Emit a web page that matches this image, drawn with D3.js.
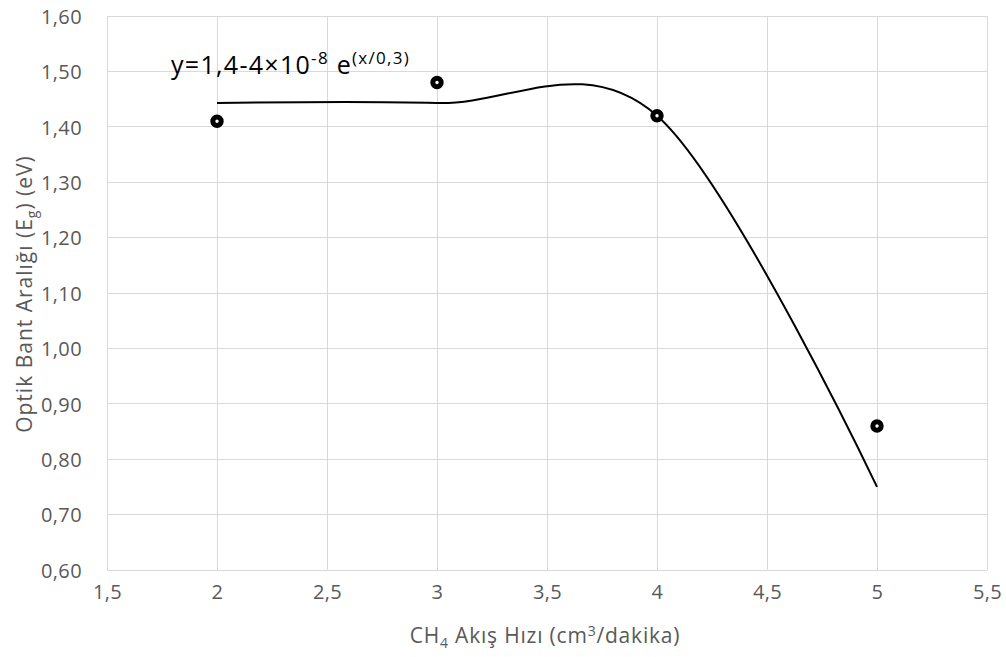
<!DOCTYPE html>
<html>
<head>
<meta charset="utf-8">
<script src="https://cdn.jsdelivr.net/npm/d3@7"></script>
<style>
  html, body { margin: 0; padding: 0; background: #fff; }
  svg { display: block; font-family: "Open Sans", Lato, sans-serif; }
</style>
</head>
<body>
<svg id="chart" width="1006" height="657"></svg>
<script>
// Measured band gap per CH4 flow rate
const flowRates = [2, 3, 4, 5];
const bandGap = [1.41, 1.48, 1.42, 0.86];

// Trend curve values at the same flow rates
const fitX = [2, 3, 4, 5];
const fitY = [1.443, 1.443, 1.42, 0.75];

// Axis ticks
const xTicks = [1.5, 2, 2.5, 3, 3.5, 4, 4.5, 5, 5.5];
const yTicks = [0.6, 0.7, 0.8, 0.9, 1.0, 1.1, 1.2, 1.3, 1.4, 1.5, 1.6];

const svg = d3.select("#chart");
const plot = { left: 107, right: 987, top: 16, bottom: 570 };

const x = d3.scaleLinear().domain([1.5, 5.5]).range([plot.left, plot.right]);
const y = d3.scaleLinear().domain([0.6, 1.6]).range([plot.bottom, plot.top]);

const fmtX = d => d3.format("~g")(d).replace(".", ",");
const fmtY = d => d3.format(".2f")(d).replace(".", ",");

// Gridlines
svg.append("g").selectAll("line").data(yTicks).join("line")
  .attr("x1", plot.left).attr("x2", plot.right)
  .attr("y1", d => y(d)).attr("y2", d => y(d))
  .attr("stroke", "#d9d9d9").attr("stroke-width", 1).attr("shape-rendering", "crispEdges");
svg.append("g").selectAll("line").data(xTicks).join("line")
  .attr("x1", d => x(d)).attr("x2", d => x(d))
  .attr("y1", plot.top).attr("y2", plot.bottom)
  .attr("stroke", "#d9d9d9").attr("stroke-width", 1).attr("shape-rendering", "crispEdges");

// Axes (tick labels only; gridlines carry the structure)
const xAxis = svg.append("g")
  .attr("transform", `translate(0,${plot.bottom})`)
  .call(d3.axisBottom(x).tickValues(xTicks).tickFormat(fmtX).tickSize(0).tickPadding(15));
const yAxis = svg.append("g")
  .attr("transform", `translate(${plot.left},0)`)
  .call(d3.axisLeft(y).tickValues(yTicks).tickFormat(fmtY).tickSize(0).tickPadding(25));
[xAxis, yAxis].forEach(g => {
  g.select(".domain").remove();
  g.selectAll("text").attr("fill", "#595959")
    .style("font-size", "20px").style("font-family", "'Open Sans', sans-serif")
    .style("letter-spacing", "0.4px");
});
yAxis.selectAll("text").attr("dy", "0.36em");

// Trend curve
const line = d3.line()
  .x((d, i) => x(fitX[i]))
  .y(d => y(d))
  .curve(d3.curveCardinal.tension(0));
svg.append("path")
  .datum(fitY)
  .attr("d", line)
  .attr("fill", "none")
  .attr("stroke", "#000")
  .attr("stroke-width", 2);

// Measured points
svg.append("g").selectAll("circle").data(bandGap).join("circle")
  .attr("cx", (d, i) => x(flowRates[i]))
  .attr("cy", d => y(d))
  .attr("r", 4.2)
  .attr("fill", "#fff")
  .attr("stroke", "#000")
  .attr("stroke-width", 5);

// Equation label
const eq = svg.append("text")
  .attr("x", 171).attr("y", 74)
  .attr("fill", "#000")
  .style("font-size", "25px")
  .style("letter-spacing", "1.3px");
eq.append("tspan").text("y=1,4-4×10");
eq.append("tspan").attr("dy", -10).style("font-size", "17px").text("-8");
eq.append("tspan").attr("dy", 10).text(" e");
eq.append("tspan").attr("dy", -10).style("font-size", "17px").text("(x/0,3)");

// X axis title
const xt = svg.append("text")
  .attr("x", 545).attr("y", 643)
  .attr("text-anchor", "middle")
  .attr("fill", "#595959")
  .style("font-size", "21px")
  .style("letter-spacing", "0.8px");
xt.append("tspan").text("CH");
xt.append("tspan").attr("dy", 5).style("font-size", "14px").text("4");
xt.append("tspan").attr("dy", -5).text(" Akış Hızı (cm");
xt.append("tspan").attr("dy", -7).style("font-size", "14px").text("3");
xt.append("tspan").attr("dy", 7).text("/dakika)");

// Y axis title
const yt = svg.append("text")
  .attr("transform", "translate(32,294) rotate(-90)")
  .attr("text-anchor", "middle")
  .attr("fill", "#595959")
  .style("font-size", "21px")
  .style("letter-spacing", "1px");
yt.append("tspan").text("Optik Bant Aralığı (E");
yt.append("tspan").attr("dy", 5).style("font-size", "14px").text("g");
yt.append("tspan").attr("dy", -5).text(") (eV)");
</script>
</body>
</html>
